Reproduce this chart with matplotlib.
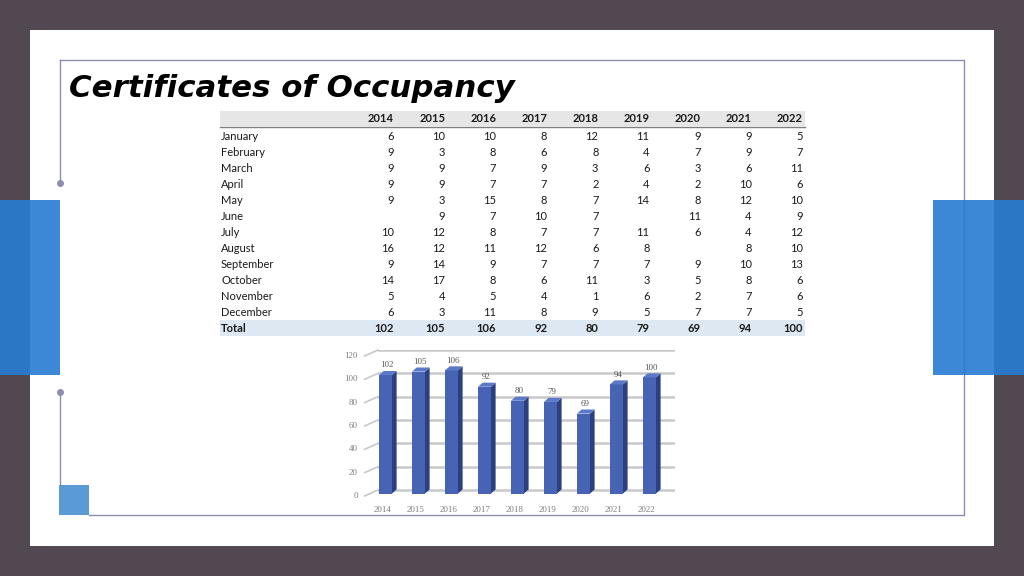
import numpy as np
import matplotlib
matplotlib.use('Agg')
import matplotlib.pyplot as plt
from matplotlib.patches import Rectangle, Polygon

# ---- data ----
months = ['January', 'February', 'March', 'April', 'May', 'June', 'July',
          'August', 'September', 'October', 'November', 'December']
years = ['2014', '2015', '2016', '2017', '2018', '2019', '2020', '2021', '2022']

c2014 = [6, 9, 9, 9, 9, None, 10, 16, 9, 14, 5, 6]
c2015 = [10, 3, 9, 9, 3, 9, 12, 12, 14, 17, 4, 3]
c2016 = [10, 8, 7, 7, 15, 7, 8, 11, 9, 8, 5, 11]
c2017 = [8, 6, 9, 7, 8, 10, 7, 12, 7, 6, 4, 8]
c2018 = [12, 8, 3, 2, 7, 7, 7, 6, 7, 11, 1, 9]
c2019 = [11, 4, 6, 4, 14, None, 11, 8, 7, 3, 6, 5]
c2020 = [9, 7, 3, 2, 8, 11, 6, None, 9, 5, 2, 7]
c2021 = [9, 9, 6, 10, 12, 4, 4, 8, 10, 8, 7, 7]
c2022 = [5, 7, 11, 6, 10, 9, 12, 10, 13, 6, 6, 5]

columns = [c2014, c2015, c2016, c2017, c2018, c2019, c2020, c2021, c2022]
totals = [sum(v for v in col if v is not None) for col in columns]

# ---- figure ----
fig = plt.figure(figsize=(10.24, 5.76), dpi=100)
fig.patch.set_facecolor('#514851')

bg = fig.add_axes([0, 0, 1, 1])
bg.set_xlim(0, 1024)
bg.set_ylim(576, 0)
bg.axis('off')

# white slide panel
bg.add_patch(Rectangle((30, 30), 964, 516, facecolor='white', edgecolor='none', zorder=1))

# thin frame
fc = '#8d8eae'
bg.plot([60, 964, 964, 89], [60, 60, 515, 515], color=fc, lw=1, zorder=2)
bg.plot([60, 60], [60, 183], color=fc, lw=1, zorder=2)
bg.plot([60, 60], [392, 485], color=fc, lw=1, zorder=2)
bg.plot([60, 60], [183, 392], 'o', color=fc, ms=4, zorder=2)
bg.add_patch(Rectangle((59, 485), 30, 30, facecolor='#5b9bd5', edgecolor='none', zorder=2))

# blue side blocks
bg.add_patch(Rectangle((0, 200), 60, 175, facecolor='#287bd2', alpha=0.91, edgecolor='none', zorder=3))
bg.add_patch(Rectangle((933, 200), 91, 175, facecolor='#287bd2', alpha=0.91, edgecolor='none', zorder=3))

# title
bg.text(69, 97, 'Certificates of Occupancy', fontsize=22.2, fontweight='bold',
        fontstyle='italic', family='DejaVu Sans', va='baseline', ha='left', zorder=4)

# ---- table ----
tfont = 'Lato'
tsize = 8
bg.add_patch(Rectangle((220, 111), 585, 15, facecolor='#e7e6e6', edgecolor='none', zorder=2))
bg.plot([220, 805], [126.5, 126.5], color='#7f7f7f', lw=1, zorder=3)
bg.add_patch(Rectangle((220, 320), 585, 16, facecolor='#dde8f3', edgecolor='none', zorder=2))

col_right = [394 + 51.1 * i for i in range(len(years))]
for j, yr in enumerate(years):
    bg.text(col_right[j], 119, yr, family=tfont, fontsize=tsize, fontweight='bold',
            ha='right', va='center', color='#1a1a1a', zorder=4)

for i, m in enumerate(months):
    y = 136 + 16 * i
    bg.text(221, y, m, family=tfont, fontsize=tsize, ha='left', va='center',
            color='#1a1a1a', zorder=4)
    for j, col in enumerate(columns):
        if col[i] is not None:
            bg.text(col_right[j], y, str(col[i]), family=tfont, fontsize=tsize,
                    ha='right', va='center', color='#1a1a1a', zorder=4)

bg.text(221, 328, 'Total', family=tfont, fontsize=tsize, fontweight='bold',
        ha='left', va='center', color='#1a1a1a', zorder=4)
for j, t in enumerate(totals):
    bg.text(col_right[j], 328, str(t), family=tfont, fontsize=tsize, fontweight='bold',
            ha='right', va='center', color='#1a1a1a', zorder=4)

# ---- bar chart (pseudo 3D) ----
W, H = 1024, 576
ax = fig.add_axes([378 / W, (H - 493.5) / H, 297 / W, 143.5 / H])
ax.patch.set_visible(False)
ax.set_ylim(-3, 120)
ax.set_xlim(-0.227, -0.227 + 297 / 33.0)
for s in ax.spines.values():
    s.set_visible(False)

x = np.arange(len(years))
grid_vals = np.arange(0, 121, 20)
for g in grid_vals:
    ax.axhline(g, color='#c9c9c9', lw=1.8, zorder=1)
    # slanted perspective tick from label to back wall
    ax.plot([-0.045, 0], [g - 5.1, g], transform=ax.get_yaxis_transform(),
            color='#c9c9c9', lw=1.2, clip_on=False, zorder=1)
    ax.text(-0.068, g - 5.1, str(g), transform=ax.get_yaxis_transform(),
            ha='right', va='center', family='Liberation Serif', fontsize=6.5,
            color='#7f7f7f')

bw = 0.394
dx = 0.14
dy = 3.5
front = '#4764b4'
side = '#2c3f7f'
top = '#5b79c9'
for xi, v in zip(x, totals):
    ax.bar(xi, v - dy + 3, bottom=-3, width=bw, color=front, edgecolor='none', zorder=3)
    r = xi + bw / 2
    l = xi - bw / 2
    ax.add_patch(Polygon([(r, -3), (r + dx, -3 + dy), (r + dx, v), (r, v - dy)],
                         closed=True, facecolor=side, edgecolor='none', zorder=3))
    ax.add_patch(Polygon([(l, v - dy), (r, v - dy), (r + dx, v), (l + dx, v)],
                         closed=True, facecolor=top, edgecolor='none', zorder=3))
    ax.text(xi + 0.04, v + 1.5, str(v), ha='center', va='bottom',
            family='Liberation Serif', fontsize=6.5, color='#595959', zorder=4)

ax.set_yticks([])
ax.set_xticks(x - 0.1)
ax.set_xticklabels(years, family='Liberation Serif', fontsize=6.5, color='#7f7f7f')
ax.tick_params(axis='x', length=0, pad=9)

fig.savefig('out.png', dpi=100, facecolor=fig.get_facecolor())
